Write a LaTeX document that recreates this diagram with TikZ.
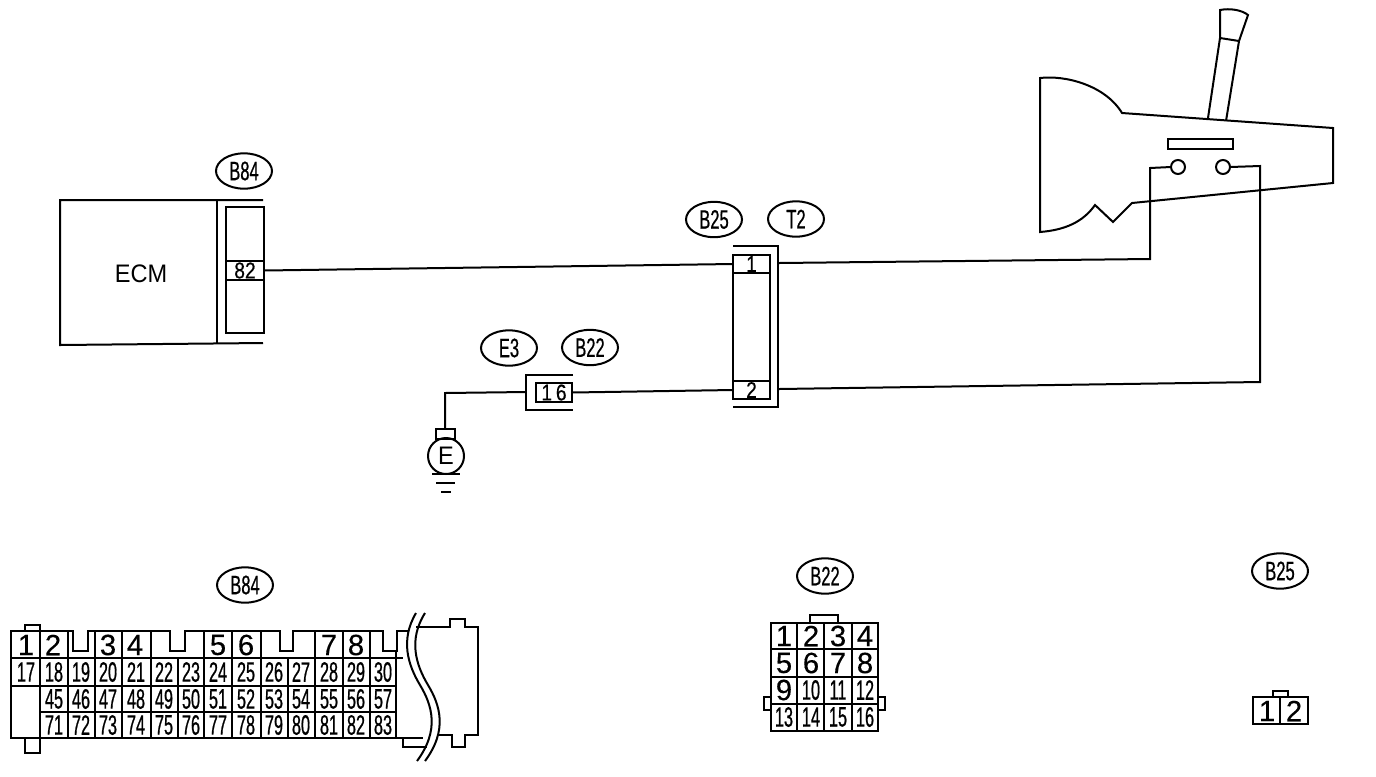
\documentclass[tikz,border=0pt]{standalone}
\usepackage{fontspec}
\setmainfont{Liberation Sans}
\newfontfamily\tagfont[FakeStretch=0.62,FakeBold=0.6]{Liberation Sans}
\newfontfamily\pinfont[FakeStretch=0.58,FakeBold=0.6]{Liberation Sans}
\newfontfamily\bigfont[FakeBold=0.3]{Liberation Sans}
\newfontfamily\cellfont[FakeStretch=0.85,FakeBold=0.4]{Liberation Sans}
\newfontfamily\ecmfont[FakeStretch=0.93]{Liberation Sans}
\usetikzlibrary{shapes.geometric}
\tikzset{
  tag/.style={ellipse,draw,minimum width=42pt,minimum height=26.5pt,inner sep=0pt,font=\tagfont\fontsize{20}{20}\selectfont},
  pin/.style={inner sep=0pt,font=\pinfont\fontsize{21}{21}\selectfont},
  bigpin/.style={inner sep=0pt,font=\bigfont\fontsize{22}{22}\selectfont},
  cell/.style={draw,inner sep=0pt,outer sep=0pt,font=\cellfont\fontsize{17}{17}\selectfont},
  contact/.style={circle,draw,inner sep=0pt,outer sep=0pt,minimum size=10.5pt}
}
\begin{document}
\begin{tikzpicture}[x=0.75pt,y=0.75pt,yscale=-1,xscale=1,line width=1.5pt]
\useasboundingbox (0,0) rectangle (1376,776);

% ECM and its connector
\draw (263,200) -- (60,200) -- (60,345) -- (263,343) ;
\draw (217,200) -- (217,344) ;
\draw (226,207) rectangle (264,333) ;
\node (ecm) at (141,274) {\ecmfont\fontsize{19}{19}\selectfont ECM};
\node (c82) [cell,minimum width=28.5pt,minimum height=14.25pt] at (245,270.5) {82};
\node (tagB84) [tag] at (244,171) {B84};

% Connector B25 / T2
\draw (733,246) -- (778,246) -- (778,407) -- (733,407) ;
\draw (733,255) rectangle (770,399) ;
\node (c1) [cell,minimum width=27.75pt,minimum height=13.5pt] at (751.5,264) {1};
\node (c2) [cell,minimum width=27.75pt,minimum height=13.5pt] at (751.5,390) {2};
\node (tagB25) [tag] at (714,219.5) {B25};
\node (tagT2) [tag] at (796,219) {T2};
\coordinate (out1) at (779,263);
\coordinate (out2) at (779,389);

% Connector E3 / B22
\draw (573,375) -- (526,375) -- (526,410) -- (573,410) ;
\node (c16) [cell,minimum width=27pt,minimum height=14.25pt] at (554,392.5) {1\,6};
\node (tagE3) [tag] at (509,348) {E3};
\node (tagB22) [tag] at (590,347.5) {B22};
\coordinate (bk16) at (526,392);

% Earth
\node (gnd) [circle,draw,inner sep=0pt,outer sep=0pt,minimum size=27pt,font=\ecmfont\fontsize{19}{19}\selectfont] at (446,456) {E};
\node (gcap) [draw,inner sep=0pt,outer sep=0pt,minimum width=14.25pt,minimum height=7.5pt] at (445.5,434) {};
\draw (432,474) -- (460,474) ;
\draw (436,483) -- (455,483) ;
\draw (441,492) -- (451,492) ;

% Transmission
\draw (1040,78) .. controls (1065,75) and (1105,85) .. (1122,113) -- (1333,128) -- (1333,183) -- (1132,203) -- (1113,222) -- (1095,205) .. controls (1083,222) and (1065,230) .. (1040,232) -- cycle ;
\draw (1168,139) rectangle (1233,149) ;
\draw (1208,118) -- (1220,38) -- (1220,10) .. controls (1230,8) and (1242,10) .. (1248,15) -- (1239,41) -- (1226,121) ;
\draw (1220,38) -- (1239,41) ;
\node (sw1) [contact] at (1178,167) {};
\node (sw2) [contact] at (1223,167) {};

% Wires
\draw (c82.east) -- (c1.west) ;
\draw (out1) -- (1150,259) -- (1150,168) -- (sw1.west) ;
\draw (sw2.east) -- (1260,166) -- (1260,382) -- (out2) ;
\draw (c2.west) -- (c16.east) ;
\draw (bk16) -- (445,393) -- (gcap.north -| 445,393) ;

% Connector B84 face
\node (tagB84b) [tag] at (245,585) {B84};
\draw (25,631) -- (25,625) -- (40,625) -- (40,631) ;
\draw (25,738) -- (25,753) -- (40,753) -- (40,738) ;
\draw (408,631) -- (397,631) -- (397,651) -- (383,651) -- (383,631) -- (293,631) -- (293,651) -- (280,651) -- (280,631) -- (185,631) -- (185,651) -- (170,651) -- (170,631) -- (88,631) -- (88,651) -- (73,651) -- (73,631) -- (11,631) -- (11,738) -- (423,738) ;
\draw (11,658) -- (403,658) ;
\draw (11,686) -- (396,686) ;
\draw (40,712) -- (396,712) ;
\draw (396,651) -- (396,738) ;
\draw (40,631) -- (40,738) ;
\draw (68,631) -- (68,738) ;
\draw (95,631) -- (95,738) ;
\draw (122,631) -- (122,738) ;
\draw (151,631) -- (151,738) ;
\draw (178,658) -- (178,738) ;
\draw (204,631) -- (204,738) ;
\draw (232,631) -- (232,738) ;
\draw (261,631) -- (261,738) ;
\draw (288,658) -- (288,738) ;
\draw (315,631) -- (315,738) ;
\draw (343,631) -- (343,738) ;
\draw (370,631) -- (370,738) ;
\draw (403,738) -- (403,747) -- (427,747) ;
\draw (416,627) -- (450,627) -- (450,619) -- (465,619) -- (465,627) -- (478,627) -- (478,735) -- (465,735) -- (465,747) -- (452,747) -- (452,735) -- (437,735) ;
\draw (416,613) .. controls (400,640) and (408,665) .. (420,685) .. controls (432,705) and (440,730) .. (417,761) ;
\draw (425,613) .. controls (408,640) and (416,665) .. (428,685) .. controls (440,705) and (448,730) .. (425,761) ;

% Pin numbers B84
\node (n1) [bigpin] at (26,645) {1};
\node (n2) [bigpin] at (53,645) {2};
\node (n3) [bigpin] at (108,645) {3};
\node (n4) [bigpin] at (135,645) {4};
\node (n5) [bigpin] at (218,645) {5};
\node (n6) [bigpin] at (246,645) {6};
\node (n7) [bigpin] at (329,645) {7};
\node (n8) [bigpin] at (356,645) {8};
\node (n17) [pin] at (26,672) {17};
\node (n18) [pin] at (54,672) {18};
\node (n19) [pin] at (81,672) {19};
\node (n20) [pin] at (108,672) {20};
\node (n21) [pin] at (136,672) {21};
\node (n22) [pin] at (164,672) {22};
\node (n23) [pin] at (191,672) {23};
\node (n24) [pin] at (218,672) {24};
\node (n25) [pin] at (246,672) {25};
\node (n26) [pin] at (274,672) {26};
\node (n27) [pin] at (301,672) {27};
\node (n28) [pin] at (329,672) {28};
\node (n29) [pin] at (356,672) {29};
\node (n30) [pin] at (383,672) {30};
\node (n45) [pin] at (54,699) {45};
\node (n46) [pin] at (81,699) {46};
\node (n47) [pin] at (108,699) {47};
\node (n48) [pin] at (136,699) {48};
\node (n49) [pin] at (164,699) {49};
\node (n50) [pin] at (191,699) {50};
\node (n51) [pin] at (218,699) {51};
\node (n52) [pin] at (246,699) {52};
\node (n53) [pin] at (274,699) {53};
\node (n54) [pin] at (301,699) {54};
\node (n55) [pin] at (329,699) {55};
\node (n56) [pin] at (356,699) {56};
\node (n57) [pin] at (383,699) {57};
\node (n71) [pin] at (54,725) {71};
\node (n72) [pin] at (81,725) {72};
\node (n73) [pin] at (108,725) {73};
\node (n74) [pin] at (136,725) {74};
\node (n75) [pin] at (164,725) {75};
\node (n76) [pin] at (191,725) {76};
\node (n77) [pin] at (218,725) {77};
\node (n78) [pin] at (246,725) {78};
\node (n79) [pin] at (274,725) {79};
\node (n80) [pin] at (301,725) {80};
\node (n81) [pin] at (329,725) {81};
\node (n82) [pin] at (356,725) {82};
\node (n83) [pin] at (383,725) {83};

% Connector B22 face
\node (tagB22b) [tag] at (825,576) {B22};
\draw (810,623) -- (810,615) -- (838,615) -- (838,623) ;
\draw (771,623) rectangle (878,731) ;
\draw (771,649) -- (878,649) ;
\draw (771,677) -- (878,677) ;
\draw (771,704) -- (878,704) ;
\draw (797,623) -- (797,731) ;
\draw (824,623) -- (824,731) ;
\draw (852,623) -- (852,731) ;
\draw (771,697) -- (764,697) -- (764,710) -- (771,710) ;
\draw (878,697) -- (885,697) -- (885,710) -- (878,710) ;
\node (m1) [bigpin] at (784,636) {1};
\node (m2) [bigpin] at (811,636) {2};
\node (m3) [bigpin] at (838,636) {3};
\node (m4) [bigpin] at (865,636) {4};
\node (m5) [bigpin] at (784,663) {5};
\node (m6) [bigpin] at (811,663) {6};
\node (m7) [bigpin] at (838,663) {7};
\node (m8) [bigpin] at (865,663) {8};
\node (m9) [bigpin] at (784,690) {9};
\node (m10) [pin] at (811,690) {10};
\node (m11) [pin] at (838,690) {11};
\node (m12) [pin] at (865,690) {12};
\node (m13) [pin] at (784,717) {13};
\node (m14) [pin] at (811,717) {14};
\node (m15) [pin] at (838,717) {15};
\node (m16) [pin] at (865,717) {16};

% Connector B25 face
\node (tagB25b) [tag] at (1280,571) {B25};
\draw (1273,697) -- (1273,691) -- (1288,691) -- (1288,697) ;
\draw (1253,697) rectangle (1308,724) ;
\draw (1280,697) -- (1280,724) ;
\node (k1) [bigpin] at (1267,711) {1};
\node (k2) [bigpin] at (1294,711) {2};

\end{tikzpicture}
\end{document}
